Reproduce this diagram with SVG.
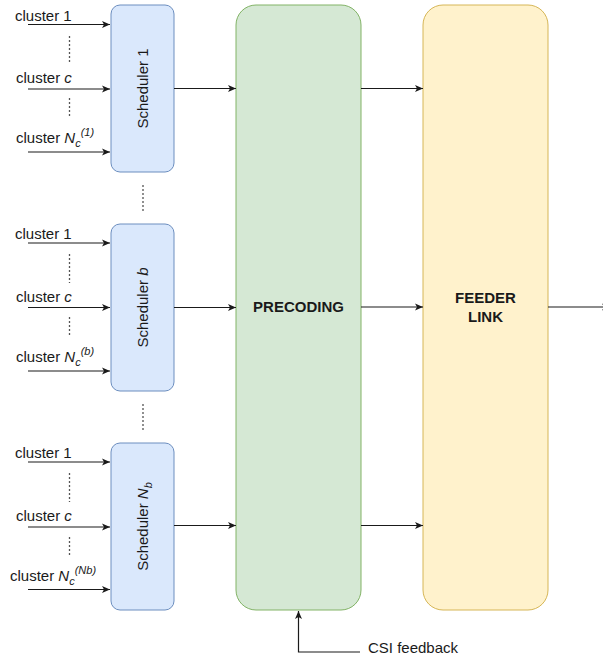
<svg xmlns="http://www.w3.org/2000/svg" width="603" height="657" viewBox="0 0 603 657">
<defs>
<marker id="arr" markerUnits="userSpaceOnUse" markerWidth="10" markerHeight="8" refX="8" refY="3.5" orient="auto" overflow="visible">
<path d="M0,0 L8,3.5 L0,7 L2,3.5 z" fill="#1a1a1a"/>
</marker>
<style>
.t{font-family:"Liberation Sans",Arial,sans-serif;font-size:15px;fill:#1a1a1a}
.b{font-weight:bold}
.i{font-style:italic}
.s{font-size:11px}
.sch{fill:#dae8fc;stroke:#6c8ebf;stroke-width:1}
.pre{fill:#d5e8d4;stroke:#82b366;stroke-width:1}
.fee{fill:#fff2cc;stroke:#d6b656;stroke-width:1}
.c{fill:none;stroke:#1a1a1a;stroke-width:1.2;marker-end:url(#arr)}
.d{fill:none;stroke:#555;stroke-width:1.3;stroke-dasharray:2 2}
</style>
</defs>
<rect width="603" height="657" fill="#ffffff"/>

<g id="scheduler1">
<rect class="sch" x="111" y="5" width="63" height="167" rx="9"/>
<text class="t" transform="translate(147.5,88.5) rotate(-90)" text-anchor="middle">Scheduler 1</text>
</g>
<g id="schedulerb">
<rect class="sch" x="111" y="224" width="63" height="167" rx="9"/>
<text class="t" transform="translate(147.5,307.5) rotate(-90)" text-anchor="middle">Scheduler <tspan class="i">b</tspan></text>
</g>
<g id="schedulerNb">
<rect class="sch" x="111" y="443" width="63" height="167" rx="9"/>
<text class="t" transform="translate(147.5,526.5) rotate(-90)" text-anchor="middle">Scheduler <tspan class="i">N</tspan><tspan class="i s" dy="4">b</tspan></text>
</g>
<g id="precoding">
<rect class="pre" x="236" y="5" width="125" height="605" rx="20"/>
<text class="t b" x="298.5" y="312" text-anchor="middle">PRECODING</text>
</g>
<g id="feeder">
<rect class="fee" x="423" y="5" width="125" height="605" rx="20"/>
<text class="t b" x="485.5" y="303" text-anchor="middle">FEEDER</text>
<text class="t b" x="485.5" y="322" text-anchor="middle">LINK</text>
</g>

<g id="labels">
<text class="t" x="15" y="21">cluster 1</text>
<text class="t" x="16" y="83">cluster <tspan class="i">c</tspan></text>
<text class="t" x="16" y="143">cluster <tspan class="i">N</tspan><tspan class="i s" dy="4">c</tspan><tspan class="i s" dy="-11">(1)</tspan></text>

<text class="t" x="15" y="239">cluster 1</text>
<text class="t" x="16" y="302">cluster <tspan class="i">c</tspan></text>
<text class="t" x="16" y="362">cluster <tspan class="i">N</tspan><tspan class="i s" dy="4">c</tspan><tspan class="i s" dy="-11">(b)</tspan></text>

<text class="t" x="15" y="458">cluster 1</text>
<text class="t" x="16" y="521">cluster <tspan class="i">c</tspan></text>
<text class="t" x="10" y="581">cluster <tspan class="i">N</tspan><tspan class="i s" dy="4">c</tspan><tspan class="i s" dy="-11">(Nb)</tspan></text>

<text class="t" x="368" y="652.5">CSI feedback</text>
</g>

<g id="connectors">
<line class="c" x1="28" y1="24.5" x2="110" y2="24.5"/>
<line class="c" x1="28" y1="89" x2="110" y2="89"/>
<line class="c" x1="28" y1="152" x2="110" y2="152"/>
<line class="c" x1="28" y1="243" x2="110" y2="243"/>
<line class="c" x1="28" y1="307.5" x2="110" y2="307.5"/>
<line class="c" x1="28" y1="371" x2="110" y2="371"/>
<line class="c" x1="28" y1="462" x2="110" y2="462"/>
<line class="c" x1="28" y1="527" x2="110" y2="527"/>
<line class="c" x1="28" y1="589.5" x2="110" y2="589.5"/>

<line class="c" x1="174" y1="88.5" x2="236" y2="88.5"/>
<line class="c" x1="174" y1="307.5" x2="236" y2="307.5"/>
<line class="c" x1="174" y1="525.5" x2="236" y2="525.5"/>

<line class="c" x1="361" y1="88.5" x2="423" y2="88.5"/>
<line class="c" x1="361" y1="307" x2="423" y2="307"/>
<line class="c" x1="361" y1="525.5" x2="423" y2="525.5"/>

<line class="c" x1="548" y1="307" x2="610" y2="307"/>

<path class="c" d="M360,652 L298.5,652 L298.5,611"/>

<line class="d" x1="69.5" y1="36" x2="69.5" y2="63"/>
<line class="d" x1="69.5" y1="98" x2="69.5" y2="118"/>
<line class="d" x1="69.5" y1="254" x2="69.5" y2="283"/>
<line class="d" x1="69.5" y1="317" x2="69.5" y2="337"/>
<line class="d" x1="69.5" y1="473" x2="69.5" y2="502"/>
<line class="d" x1="69.5" y1="537" x2="69.5" y2="557"/>
<line class="d" x1="143" y1="185" x2="143" y2="213"/>
<line class="d" x1="143" y1="404" x2="143" y2="432"/>
</g>
</svg>
